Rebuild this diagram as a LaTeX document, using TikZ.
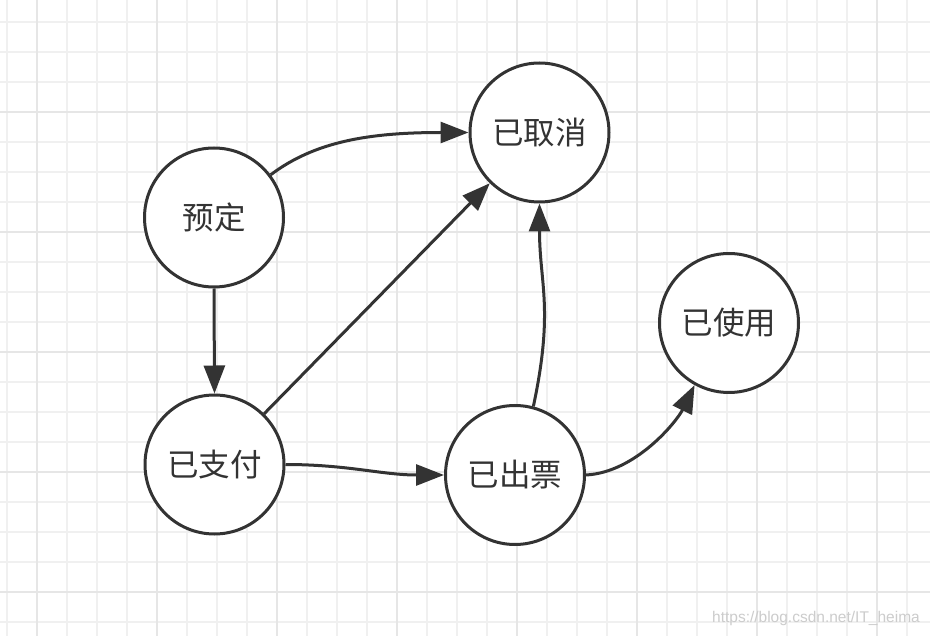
\documentclass[tikz,border=0pt]{standalone}
\usepackage{fontspec}
\newfontfamily\cjk{Noto Sans CJK SC}
\newfontfamily\wmfont{Liberation Sans}
\usetikzlibrary{arrows.meta}
\definecolor{ink}{HTML}{333333}
\definecolor{gridminor}{HTML}{F0F0F0}
\definecolor{gridmajor}{HTML}{E6E6E6}
\definecolor{wmgray}{HTML}{CCCCCC}
\tikzset{
  state/.style={circle, draw=ink, line width=3pt, fill=white, minimum size=139pt, inner sep=0pt, font=\cjk\fontsize{31.5}{31.5}\selectfont, text=ink},
  conn/.style={draw=ink, line width=3pt, -{Triangle[length=28pt,width=21pt]}},
  minorline/.style={gridminor, line width=1.5pt},
  majorline/.style={gridmajor, line width=2pt}
}
\begin{document}
\begin{tikzpicture}[x=1pt,y=1pt]
\useasboundingbox (0,0) rectangle (930,-636);
\fill[white] (0,0) rectangle (930,-636);
% grid
\foreach \x in {7,37,...,930} \draw[minorline] (\x,0) -- (\x,-636);
\foreach \y in {22,52,...,636} \draw[minorline] (0,-\y) -- (930,-\y);
\foreach \x in {37,157,...,930} \draw[majorline] (\x,0) -- (\x,-636);
\foreach \y in {112,232,...,636} \draw[majorline] (0,-\y) -- (930,-\y);
% states
\node[state] (yd) at (214,-217.5) {预定};
\node[state] (qx) at (539.5,-132.5) {已取消};
\node[state] (zf) at (214.5,-464.5) {已支付};
\node[state] (cp) at (515,-475) {已出票};
\node[state] (sy) at (729,-323) {已使用};
% connectors
\draw[conn] (yd.37) to[out=37,in=180,out distance=55pt,in distance=100pt] (qx.west);
\draw[conn] (yd.south) -- (zf.north);
\draw[conn] (zf) -- (qx);
\draw[conn] (zf.east) to[out=0,in=180] (cp.west);
\draw[conn] (cp.75) to[out=78,in=-90,out distance=100pt,in distance=80pt] (qx.south);
\draw[conn] (cp.east) to[out=3,in=244,out distance=50pt,in distance=40pt] (sy.241);
% watermark
\node[anchor=east, text=wmgray, font=\wmfont\fontsize{15.5}{15.5}\selectfont, inner sep=0pt] (wm) at (920,-618) {https://blog.csdn.net/IT\_heima};
\end{tikzpicture}
\end{document}
